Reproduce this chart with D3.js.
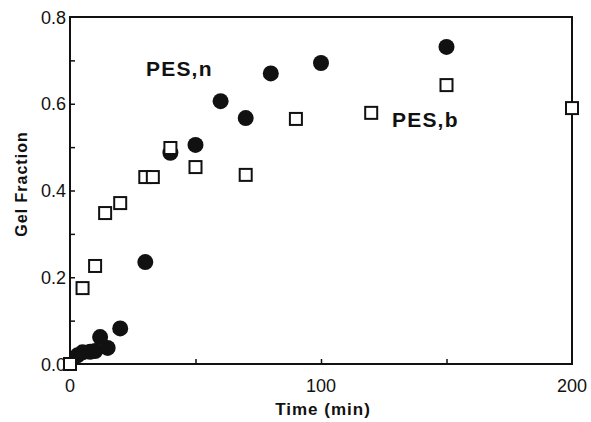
<!DOCTYPE html>
<html>
<head>
<meta charset="utf-8">
<script src="https://cdn.jsdelivr.net/npm/d3@7"></script>
<style>
  html, body { margin: 0; padding: 0; background: #fff; }
  svg { display: block; }
  text { font-family: "Liberation Sans", Arial, Helvetica, sans-serif; fill: #111; }
</style>
</head>
<body>
<svg id="chart" width="591" height="422"></svg>
<script>
// Gel fraction vs. time for the two PES samples
const pesN_time = [3, 5, 8, 10, 12, 15, 20, 30, 40, 50, 60, 70, 80, 100, 150];
const pesN_gel  = [0.02, 0.027, 0.028, 0.03, 0.062, 0.037, 0.082, 0.235, 0.487, 0.505, 0.606, 0.567, 0.67, 0.694, 0.731];

const pesB_time = [0, 5, 10, 14, 20, 30, 33, 40, 50, 70, 90, 120, 150, 200];
const pesB_gel  = [0.0, 0.175, 0.226, 0.348, 0.371, 0.431, 0.431, 0.498, 0.454, 0.436, 0.565, 0.579, 0.643, 0.59];

const xTickValues = [0, 100, 200];
const xMinorTicks = [50, 100, 150];
const yTickValues = [0.0, 0.2, 0.4, 0.6, 0.8];
const yMinorTicks = [0.1, 0.2, 0.3, 0.4, 0.5, 0.6, 0.7];

const svg = d3.select("#chart");
const margin = { left: 70, right: 19, top: 17, bottom: 58 };
const W = 591, H = 422;

const x = d3.scaleLinear().domain([0, 200]).range([margin.left, W - margin.right]);
const y = d3.scaleLinear().domain([0, 0.8]).range([H - margin.bottom, margin.top]);

// frame
svg.append("rect")
  .attr("x", x(0)).attr("y", y(0.8))
  .attr("width", x(200) - x(0)).attr("height", y(0) - y(0.8))
  .attr("fill", "none").attr("stroke", "#111").attr("stroke-width", 2);

// inward ticks on the bottom and left edges
const xAxis = d3.axisBottom(x).tickValues(xMinorTicks).tickSize(-5).tickFormat("");
svg.append("g").attr("transform", `translate(0,${y(0)})`).call(xAxis)
  .call(g => g.select(".domain").remove())
  .call(g => g.selectAll("line").attr("stroke", "#111").attr("stroke-width", 1.5));

const yAxis = d3.axisLeft(y).tickValues(yMinorTicks).tickSize(-5).tickFormat("");
svg.append("g").attr("transform", `translate(${x(0)},0)`).call(yAxis)
  .call(g => g.select(".domain").remove())
  .call(g => g.selectAll("line").attr("stroke", "#111").attr("stroke-width", 1.5));

// tick labels
svg.append("g").selectAll("text").data(xTickValues).join("text")
  .attr("x", d => x(d)).attr("y", y(0) + 28)
  .attr("text-anchor", "middle").attr("font-size", 18)
  .text(d => d);

svg.append("g").selectAll("text").data(yTickValues).join("text")
  .attr("x", x(0) - 4).attr("y", d => y(d) + 6.5)
  .attr("text-anchor", "end").attr("font-size", 18)
  .text(d => d.toFixed(1));

// axis titles
svg.append("text")
  .attr("x", 323).attr("y", 415)
  .attr("text-anchor", "middle").attr("font-size", 17).attr("font-weight", "bold")
  .attr("letter-spacing", 1)
  .text("Time  (min)");

svg.append("text")
  .attr("transform", `translate(27,${184}) rotate(-90)`)
  .attr("text-anchor", "middle").attr("font-size", 16).attr("font-weight", "bold")
  .attr("letter-spacing", 1)
  .text("Gel  Fraction");

// PES,n : filled circles
svg.append("g").selectAll("circle")
  .data(pesN_time.map((t, i) => [t, pesN_gel[i]]))
  .join("circle")
  .attr("cx", d => x(d[0])).attr("cy", d => y(d[1]))
  .attr("r", 8).attr("fill", "#111");

// PES,b : open squares
const s = 12;
svg.append("g").selectAll("rect")
  .data(pesB_time.map((t, i) => [t, pesB_gel[i]]))
  .join("rect")
  .attr("x", d => x(d[0]) - s / 2).attr("y", d => y(d[1]) - s / 2)
  .attr("width", s).attr("height", s)
  .attr("fill", "#fff").attr("stroke", "#111").attr("stroke-width", 2);

// series labels
svg.append("text")
  .attr("x", 146).attr("y", 76)
  .attr("font-size", 21).attr("font-weight", "bold").attr("letter-spacing", 1.2)
  .text("PES,n");

svg.append("text")
  .attr("x", 392).attr("y", 127)
  .attr("font-size", 21).attr("font-weight", "bold").attr("letter-spacing", 1.2)
  .text("PES,b");
</script>
</body>
</html>
